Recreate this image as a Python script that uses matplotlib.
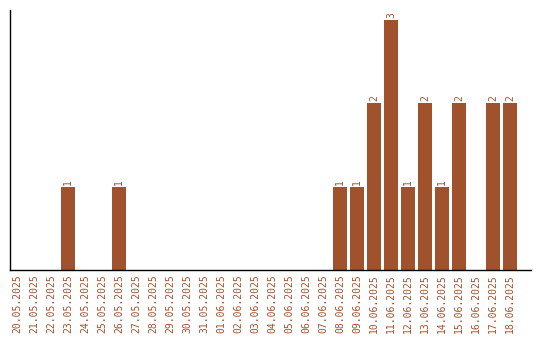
import matplotlib
matplotlib.use('Agg')
import matplotlib.pyplot as plt
import numpy as np

dates = ['20.05.2025', '21.05.2025', '22.05.2025', '23.05.2025', '24.05.2025',
         '25.05.2025', '26.05.2025', '27.05.2025', '28.05.2025', '29.05.2025',
         '30.05.2025', '31.05.2025', '01.06.2025', '02.06.2025', '03.06.2025',
         '04.06.2025', '05.06.2025', '06.06.2025', '07.06.2025', '08.06.2025',
         '09.06.2025', '10.06.2025', '11.06.2025', '12.06.2025', '13.06.2025',
         '14.06.2025', '15.06.2025', '16.06.2025', '17.06.2025', '18.06.2025']
counts = [0, 0, 0, 1, 0, 0, 1, 0, 0, 0,
          0, 0, 0, 0, 0, 0, 0, 0, 0, 1,
          1, 2, 3, 1, 2, 1, 2, 0, 2, 2]

color = '#a0522d'
plt.rcParams['font.family'] = 'DejaVu Sans Mono'

fig = plt.figure(figsize=(5.4, 3.4), dpi=100)
ax = fig.add_axes([10 / 540, 70 / 340, 521 / 540, 260 / 340])

# each date gets a 17px slot, bar is 14px wide at the slot's left edge
w = 14 / 17
x = np.arange(len(dates))
ax.bar(x, counts, width=w, align='edge', color=color)
for xi, c in zip(x, counts):
    if c > 0:
        ax.text(xi + w / 2, c + 0.025, str(c), rotation=90, ha='center',
                va='bottom', fontsize=7, color=color)

ax.set_xlim(0, 521 / 17)
ax.set_ylim(0, 3.12)
ax.set_xticks(x + w / 2)
ax.set_xticklabels(dates, rotation=90, fontsize=7, color=color)
ax.tick_params(axis='x', length=0, pad=3)
ax.set_yticks([])
ax.spines['top'].set_visible(False)
ax.spines['right'].set_visible(False)
ax.spines['left'].set_linewidth(1)
ax.spines['bottom'].set_linewidth(1)

fig.savefig('out.png', dpi=100)
